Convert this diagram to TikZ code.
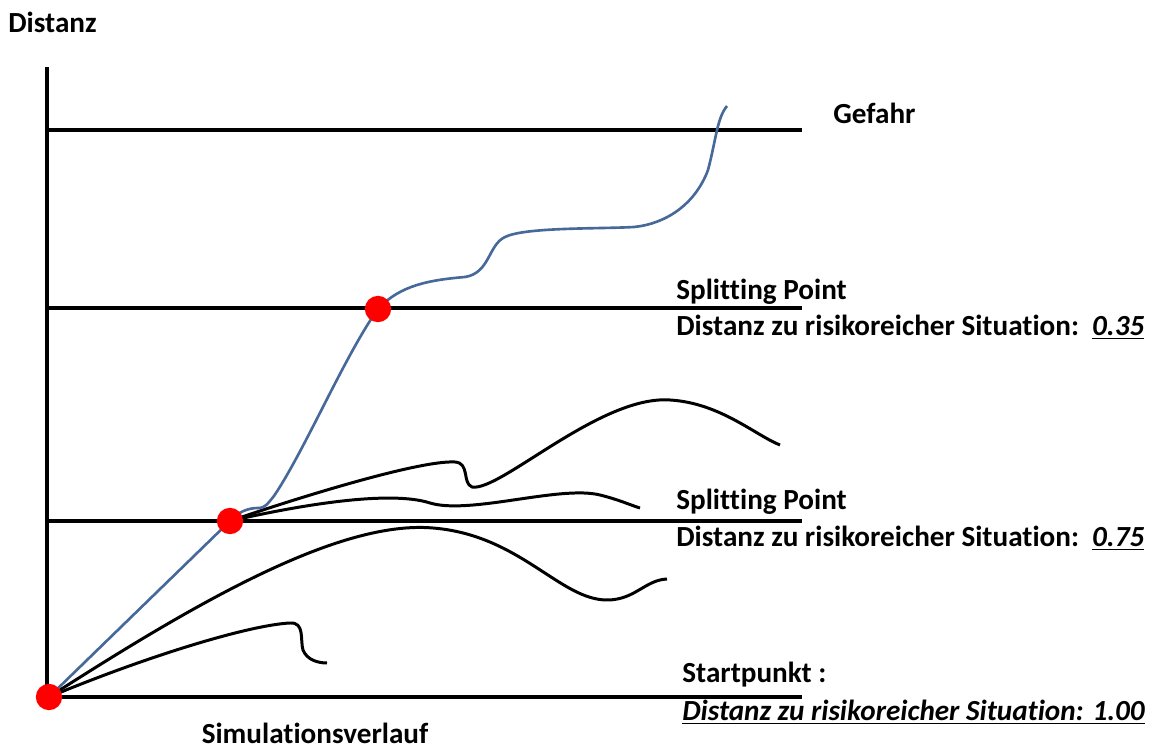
\documentclass[tikz,border=0pt]{standalone}
\usepackage{fontspec}
\setmainfont[Ligatures=NoCommon]{Carlito}
\usetikzlibrary{positioning}
\definecolor{pathBlue}{HTML}{46699A}
\definecolor{splitRed}{HTML}{FF0000}

\tikzset{
  level/.style={line width=2.3pt},
  trace/.style={line width=1.7pt},
  winner/.style={pathBlue, line width=1.5pt},
  splitdot/.style={circle, fill=splitRed, inner sep=0pt, minimum size=15pt},
  lbl/.style={font=\fontsize{16.6}{19}\selectfont\bfseries, inner sep=0pt}
}

\begin{document}
\begin{tikzpicture}[x=0.02cm, y=-0.02cm]
    \useasboundingbox (0, 0) rectangle (1160, 749);

    % Achse und Schwellen
    \draw[level] (47, 67) -- (47, 697);
    \draw[level] (47, 130) -- (802, 130);
    \draw[level] (47, 308) -- (802, 308);
    \draw[level] (47, 521) -- (802, 521);
    \draw[level] (47, 697) -- (802, 697);

    % Punkte
    \coordinate (start) at (49, 697);
    \coordinate (splitA) at (230, 521);
    \coordinate (splitB) at (378, 309);

    % Verworfene Läufe ab Startpunkt
    \draw[trace] (start) .. controls (150, 655) and (250, 625) .. (290, 623)
      .. controls (305, 622) and (300, 640) .. (303, 650)
      .. controls (307, 660) and (318, 663) .. (327, 663);
    \draw[trace] (start) .. controls (200, 600) and (340, 520) .. (433, 528)
      .. controls (520, 535) and (560, 600) .. (607, 600)
      .. controls (635, 600) and (645, 580) .. (667, 579);

    % Verworfene Läufe ab erstem Splitting Point
    \draw[trace] (splitA) .. controls (300, 497) and (420, 460) .. (455, 462)
      .. controls (470, 463) and (462, 483) .. (472, 487)
      .. controls (500, 492) and (600, 395) .. (670, 400)
      .. controls (720, 403) and (755, 435) .. (780, 445);
    \draw[trace] (splitA) .. controls (300, 505) and (390, 490) .. (430, 503)
      .. controls (470, 515) and (560, 485) .. (600, 495)
      .. controls (620, 500) and (630, 505) .. (640, 508);

    % Erfolgreicher Lauf
    \draw[winner] (start) -- (splitA)
      .. controls (238, 512) and (248, 508) .. (258, 508)
      .. controls (266, 508) and (268, 503) .. (274, 496)
      .. controls (305, 450) and (345, 355) .. (splitB)
      .. controls (400, 285) and (430, 280) .. (465, 277)
      .. controls (490, 273) and (488, 245) .. (505, 237)
      .. controls (525, 227) and (600, 229) .. (634, 227)
      .. controls (665, 224) and (695, 205) .. (708, 170)
      .. controls (716, 140) and (717, 118) .. (727, 106);

    \node[splitdot] (dotStart) at (start) {};
    \node[splitdot] (dotA) at (splitA) {};
    \node[splitdot] (dotB) at (splitB) {};

    % Beschriftungen
    \node[lbl, anchor=west] (yLabel) at (8, 22) {Distanz};
    \node[lbl] (xLabel) at (315, 733) {Simulationsverlauf};
    \node[lbl, anchor=west] (danger) at (833, 113) {Gefahr};

    \node[lbl, anchor=west] (splitBTitle) at (676, 292) {Splitting Point};
    \node[lbl, anchor=west] (splitBValue) at (676, 327)
      {Distanz zu risikoreicher Situation:\ \ \underline{\textit{0.35}}};

    \node[lbl, anchor=west] (splitATitle) at (676, 502) {Splitting Point};
    \node[lbl, anchor=west] (splitAValue) at (676, 538)
      {Distanz zu risikoreicher Situation:\ \ \underline{\textit{0.75}}};

    \node[lbl, anchor=west] (startTitle) at (682, 675) {Startpunkt :};
    \node[lbl, anchor=west] (startValue) at (682, 712)
      {\underline{\textit{Distanz zu risikoreicher Situation: 1.00}}};
  \end{tikzpicture}
\end{document}
